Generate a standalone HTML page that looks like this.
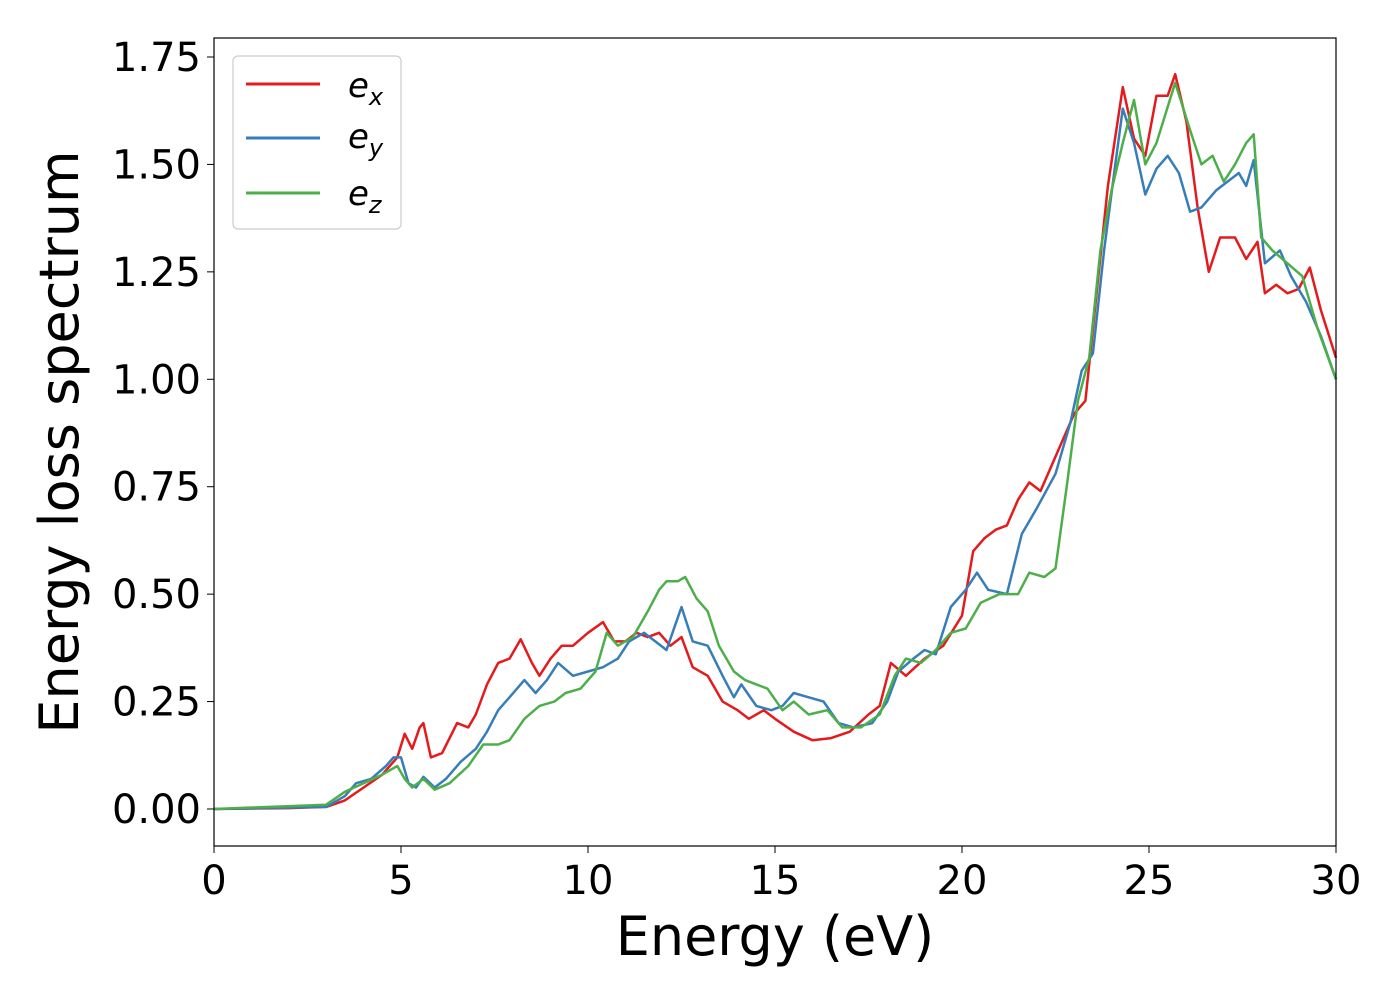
<!DOCTYPE html>
<html><head><meta charset="utf-8"><style>
body{margin:0;background:#fff;font-family:"Liberation Sans","DejaVu Sans",sans-serif}
</style></head><body>
<svg id="chart" width="1400" height="1000" xmlns="http://www.w3.org/2000/svg" font-family="'DejaVu Sans','Liberation Sans',sans-serif">
<rect width="1400" height="1000" fill="#fff"/>
<g id="axes"></g>
<g id="lines"></g>
<rect x="214" y="38" width="1122" height="808" fill="none" stroke="#000" stroke-width="1.2"/>
<text x="775" y="955" font-size="54" text-anchor="middle">Energy (eV)</text>
<text transform="translate(78,442) rotate(-90)" font-size="54" text-anchor="middle">Energy loss spectrum</text>
<g>
<rect x="233" y="56" width="168" height="173" rx="5" fill="#fff" stroke="#ccc" stroke-width="1.2"/>
<line x1="246" y1="84" x2="320" y2="84" stroke="#e41a1c" stroke-width="3"/>
<text x="348" y="97" font-size="34" font-style="italic">e<tspan font-size="24" dy="8">x</tspan></text>
<line x1="246" y1="138" x2="320" y2="138" stroke="#377eb8" stroke-width="3"/>
<text x="348" y="148" font-size="34" font-style="italic">e<tspan font-size="24" dy="8">y</tspan></text>
<line x1="246" y1="193" x2="320" y2="193" stroke="#4daf4a" stroke-width="3"/>
<text x="348" y="205" font-size="34" font-style="italic">e<tspan font-size="24" dy="8">z</tspan></text>
</g>
</svg>
<script>
const xTicks=[0,5,10,15,20,25,30];
const yTicks=[0,0.25,0.5,0.75,1.0,1.25,1.5,1.75];
const yTickLabels=["0.00","0.25","0.50","0.75","1.00","1.25","1.50","1.75"];
const exData=[[0,0],[2,0.002],[3,0.005],[3.5,0.02],[4,0.05],[4.5,0.08],[4.9,0.12],[5.1,0.175],[5.3,0.14],[5.5,0.19],[5.6,0.2],[5.8,0.12],[6.1,0.13],[6.5,0.2],[6.8,0.19],[7,0.22],[7.3,0.29],[7.6,0.34],[7.9,0.35],[8.2,0.395],[8.5,0.34],[8.7,0.31],[9,0.35],[9.3,0.38],[9.6,0.38],[10,0.41],[10.4,0.435],[10.7,0.39],[11,0.39],[11.3,0.41],[11.6,0.4],[11.9,0.41],[12.2,0.38],[12.5,0.4],[12.8,0.33],[13.2,0.31],[13.6,0.25],[14,0.23],[14.3,0.21],[14.7,0.23],[15,0.21],[15.5,0.18],[16,0.16],[16.5,0.165],[17,0.18],[17.5,0.22],[17.8,0.24],[18.1,0.34],[18.5,0.31],[19,0.35],[19.5,0.38],[20,0.45],[20.3,0.6],[20.6,0.63],[20.9,0.65],[21.2,0.66],[21.5,0.72],[21.8,0.76],[22.1,0.74],[22.5,0.82],[23,0.92],[23.3,0.95],[23.6,1.2],[23.9,1.45],[24.3,1.68],[24.6,1.56],[24.9,1.52],[25.2,1.66],[25.5,1.66],[25.7,1.71],[26,1.6],[26.3,1.4],[26.6,1.25],[26.9,1.33],[27.3,1.33],[27.6,1.28],[27.9,1.32],[28.1,1.2],[28.4,1.22],[28.7,1.2],[29,1.21],[29.3,1.26],[29.6,1.16],[30,1.05]];
const eyData=[[0,0],[3,0.005],[3.5,0.03],[3.8,0.06],[4.2,0.07],[4.6,0.1],[4.8,0.12],[5,0.12],[5.2,0.06],[5.4,0.05],[5.6,0.075],[5.9,0.05],[6.2,0.07],[6.6,0.11],[7,0.14],[7.3,0.18],[7.6,0.23],[7.9,0.26],[8.3,0.3],[8.6,0.27],[8.9,0.3],[9.2,0.34],[9.6,0.31],[10,0.32],[10.4,0.33],[10.8,0.35],[11.1,0.39],[11.5,0.41],[11.8,0.39],[12.1,0.37],[12.5,0.47],[12.8,0.39],[13.2,0.38],[13.6,0.31],[13.9,0.26],[14.1,0.29],[14.5,0.24],[14.9,0.23],[15.2,0.24],[15.5,0.27],[15.9,0.26],[16.3,0.25],[16.7,0.2],[17.1,0.19],[17.6,0.2],[18,0.25],[18.3,0.32],[18.7,0.35],[19,0.37],[19.3,0.36],[19.7,0.47],[20.1,0.51],[20.4,0.55],[20.7,0.51],[21.2,0.5],[21.6,0.64],[22,0.7],[22.5,0.78],[22.9,0.9],[23.2,1.02],[23.5,1.06],[23.8,1.3],[24.1,1.5],[24.3,1.63],[24.6,1.55],[24.9,1.43],[25.2,1.49],[25.5,1.52],[25.8,1.48],[26.1,1.39],[26.4,1.4],[26.8,1.44],[27.1,1.46],[27.4,1.48],[27.6,1.45],[27.8,1.51],[28.1,1.27],[28.5,1.3],[28.8,1.24],[29.2,1.18],[29.6,1.1],[30,1.0]];
const ezData=[[0,0],[3,0.01],[3.5,0.04],[4,0.06],[4.5,0.08],[4.9,0.1],[5.1,0.07],[5.3,0.05],[5.6,0.07],[5.9,0.045],[6.3,0.06],[6.8,0.1],[7.2,0.15],[7.6,0.15],[7.9,0.16],[8.3,0.21],[8.7,0.24],[9.1,0.25],[9.4,0.27],[9.8,0.28],[10.2,0.32],[10.5,0.41],[10.8,0.38],[11.2,0.4],[11.6,0.46],[11.9,0.51],[12.1,0.53],[12.4,0.53],[12.6,0.54],[12.9,0.49],[13.2,0.46],[13.5,0.38],[13.9,0.32],[14.2,0.3],[14.5,0.29],[14.8,0.28],[15.2,0.23],[15.5,0.25],[15.9,0.22],[16.4,0.23],[16.8,0.19],[17.3,0.19],[17.8,0.22],[18.2,0.31],[18.5,0.35],[18.9,0.34],[19.3,0.37],[19.7,0.41],[20.1,0.42],[20.5,0.48],[21,0.5],[21.5,0.5],[21.8,0.55],[22.2,0.54],[22.5,0.56],[22.8,0.75],[23.1,0.95],[23.4,1.05],[23.7,1.3],[24,1.44],[24.3,1.55],[24.6,1.65],[24.9,1.5],[25.2,1.55],[25.7,1.69],[26.1,1.58],[26.4,1.5],[26.7,1.52],[27,1.46],[27.3,1.5],[27.6,1.55],[27.8,1.57],[28,1.33],[28.3,1.3],[28.7,1.27],[29.1,1.24],[29.5,1.12],[30,1.0]];
const NS="http://www.w3.org/2000/svg";
function xs(v){return 214+v*(1122/30);}
function ys(v){return 809-v*(752/1.75);}
const axes=document.getElementById('axes');
xTicks.forEach(t=>{
  const l=document.createElementNS(NS,'line');
  
  
  l.setAttribute('x1',xs(t));l.setAttribute('x2',xs(t));l.setAttribute('y1',846);l.setAttribute('y2',853);l.setAttribute('stroke','#000');
  axes.appendChild(l);
  const tx=document.createElementNS(NS,'text');
  
  
  tx.setAttribute('x',xs(t));tx.setAttribute('y',894);tx.setAttribute('font-size','40');tx.setAttribute('text-anchor','middle');
  tx.textContent=t;axes.appendChild(tx);
});
yTicks.forEach((t,i)=>{
  const l=document.createElementNS(NS,'line');
  
  
  l.setAttribute('x1',207);l.setAttribute('x2',214);l.setAttribute('y1',ys(t));l.setAttribute('y2',ys(t));l.setAttribute('stroke','#000');
  axes.appendChild(l);
  const tx=document.createElementNS(NS,'text');
  
  
  tx.setAttribute('x',201);tx.setAttribute('y',ys(t)+14);tx.setAttribute('font-size','40');tx.setAttribute('text-anchor','end');
  tx.textContent=yTickLabels[i];axes.appendChild(tx);
});
const g=document.getElementById('lines');
[[exData,'#e41a1c','ex'],[eyData,'#377eb8','ey'],[ezData,'#4daf4a','ez']].forEach(([d,c,n])=>{
  const p=document.createElementNS(NS,'polyline');
  
  
  p.setAttribute('points',d.map(q=>xs(q[0]).toFixed(1)+','+ys(q[1]).toFixed(1)).join(' '));
  p.setAttribute('fill','none');p.setAttribute('stroke',c);p.setAttribute('stroke-width','2.5');p.setAttribute('stroke-linejoin','round');
  g.appendChild(p);
});
</script>
</body></html>
